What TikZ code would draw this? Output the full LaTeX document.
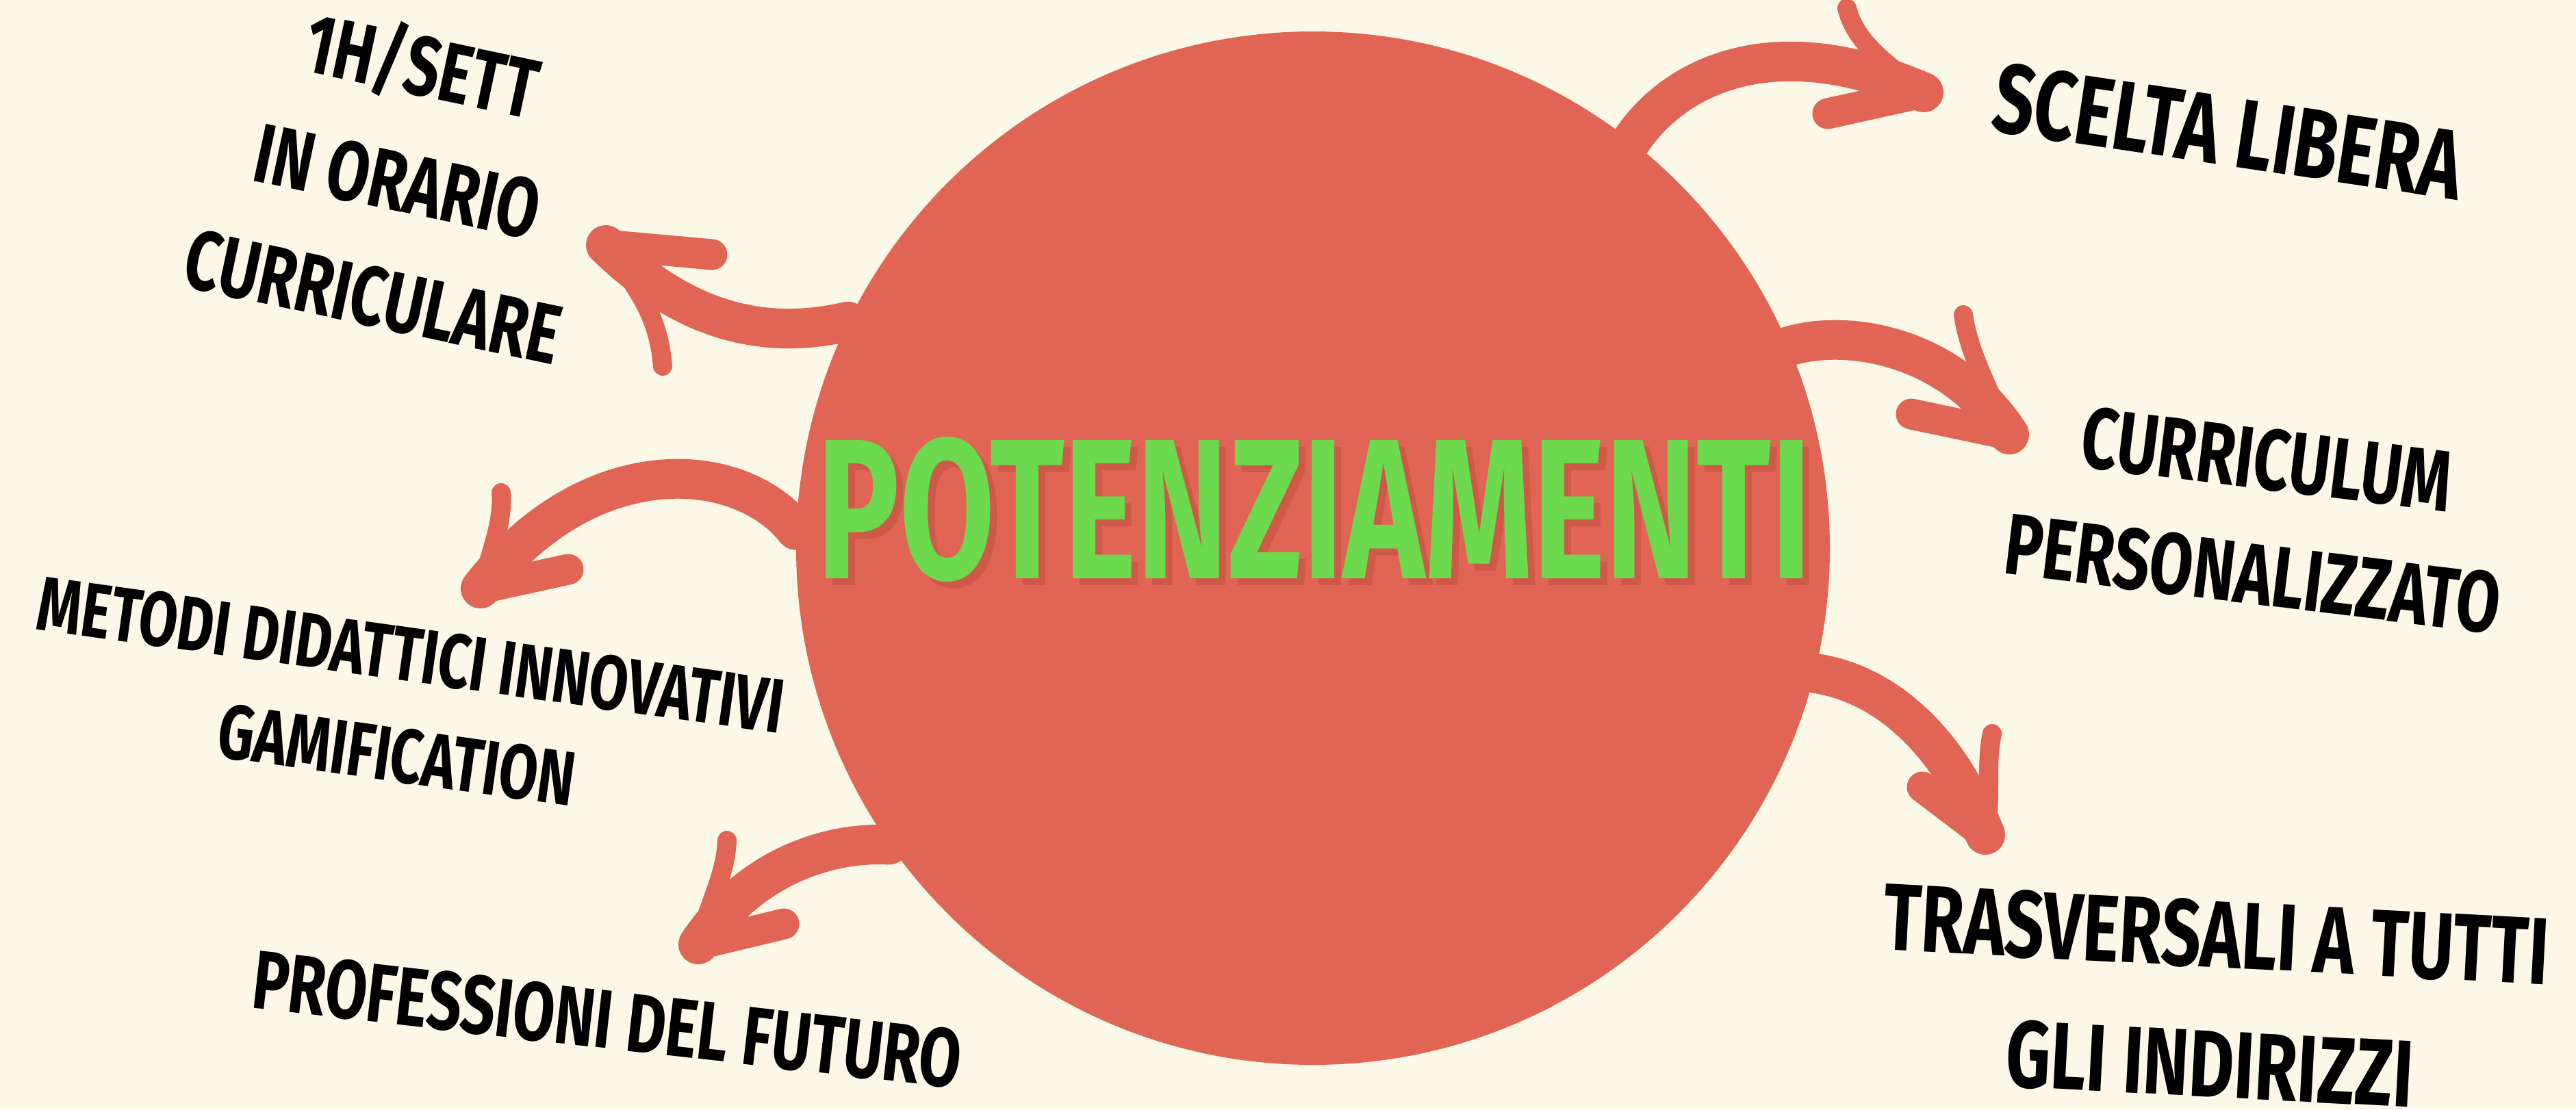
\documentclass[tikz,border=0pt]{standalone}
\usepackage{fontspec}
\newfontfamily\handfont[FakeStretch=0.73]{Fira Sans}
\newfontfamily\titlefont[FakeStretch=0.69]{Fira Sans}
\definecolor{cream}{RGB}{251,248,232}
\definecolor{brick}{RGB}{225,101,84}
\definecolor{brickdark}{RGB}{165,62,50}
\definecolor{lime}{RGB}{108,217,78}

\begin{document}
\begin{tikzpicture}[line cap=round, line join=round,
      hub/.style={circle, fill=brick, minimum size=15.1cm, inner sep=0pt},
      shaft/.style={draw=brick, line width=0.58cm},
      barb/.style={draw=brick, line width=0.45cm},
      barbthin/.style={draw=brick, line width=0.28cm},
      topic/.style={align=center, inner sep=0pt, text=black}]
    \useasboundingbox (0,-16.21) rectangle (37.63,0);
    \fill[cream] (0,-16.21) rectangle (37.63,0);

    % centre
    \node[hub] (hub) at (19.18,-8.01) {};
    \node[font=\titlefont\bfseries\fontsize{83}{90}\selectfont, text=brickdark, opacity=0.3]
      (shadow) at (19.3,-7.54) {POTENZIAMENTI};
    \node[font=\titlefont\bfseries\fontsize{83}{90}\selectfont, text=lime] (title) at (19.2,-7.44) {POTENZIAMENTI};

    % arrow ends
    \coordinate (tipA) at (8.85,-3.58);
    \coordinate (tipB) at (28.1,-1.35);
    \coordinate (tipC) at (29.35,-6.35);
    \coordinate (tipD) at (29.0,-12.2);
    \coordinate (tipE) at (7.02,-8.6);
    \coordinate (tipF) at (10.2,-13.8);

    % up left
    \draw[shaft] (hub.154.8) .. controls (11.3,-4.95) and (10.1,-4.8) .. (tipA);
    \draw[barb] (tipA) -- (10.40,-3.72);
    \draw[barbthin] (tipA) .. controls (9.3,-4.2) and (9.62,-4.6) .. (9.68,-5.35);
    % up right
    \draw[shaft] (hub.52.8) .. controls (24.4,-1.2) and (25.8,-0.35) .. (tipB);
    \draw[barbthin] (tipB) .. controls (27.5,-0.9) and (27.1,-0.6) .. (26.98,-0.12);
    \draw[barb] (tipB) -- (26.7,-1.66);
    % right
    \draw[shaft] (hub.23.7) .. controls (27.0,-4.8) and (28.5,-5.05) .. (tipC);
    \draw[barbthin] (tipC) .. controls (29.0,-5.6) and (28.75,-5.1) .. (28.68,-4.6);
    \draw[barb] (tipC) -- (27.92,-6.05);
    % down right
    \draw[shaft] (hub.-14.8) .. controls (27.6,-10.0) and (28.5,-10.9) .. (tipD);
    \draw[barbthin] (tipD) .. controls (29.1,-11.6) and (29.0,-11.2) .. (29.1,-10.72);
    \draw[barb] (tipD) -- (28.08,-11.5);
    % left
    \draw[shaft] (hub.178.8) .. controls (10.8,-6.7) and (8.6,-6.55) .. (tipE);
    \draw[barbthin] (tipE) .. controls (7.2,-8.0) and (7.35,-7.6) .. (7.32,-7.2);
    \draw[barb] (tipE) -- (8.3,-8.32);
    % down left
    \draw[shaft] (hub.215.1) .. controls (12.2,-12.3) and (11.0,-12.6) .. (tipF);
    \draw[barbthin] (tipF) .. controls (10.35,-13.2) and (10.6,-12.8) .. (10.62,-12.28);
    \draw[barb] (tipF) -- (11.45,-13.5);

    % labels
    \node[topic, rotate=-12, font=\handfont\bfseries\fontsize{35}{49}\selectfont] (hours) at (5.82,-2.59)
      {1H/SETT\\IN ORARIO\\CURRICULARE};
    \node[topic, rotate=-8, font=\handfont\bfseries\fontsize{32}{42}\selectfont] (methods) at (5.9,-10.3)
      {METODI DIDATTICI INNOVATIVI\\GAMIFICATION};
    \node[topic, rotate=-6.5, font=\handfont\bfseries\fontsize{34.5}{48}\selectfont] (jobs) at (8.87,-14.9)
      {PROFESSIONI DEL FUTURO};
    \node[topic, rotate=-8.5, font=\handfont\bfseries\fontsize{41}{48}\selectfont] (choice) at (32.55,-1.92)
      {SCELTA LIBERA};
    \node[topic, rotate=-7, font=\handfont\bfseries\fontsize{36}{48}\selectfont] (custom) at (33.01,-7.55)
      {CURRICULUM\\PERSONALIZZATO};
    \node[topic, rotate=-3, font=\handfont\bfseries\fontsize{39.5}{54}\selectfont] (across) at (32.33,-14.6)
      {TRASVERSALI A TUTTI\\GLI INDIRIZZI};
\end{tikzpicture}
\end{document}
